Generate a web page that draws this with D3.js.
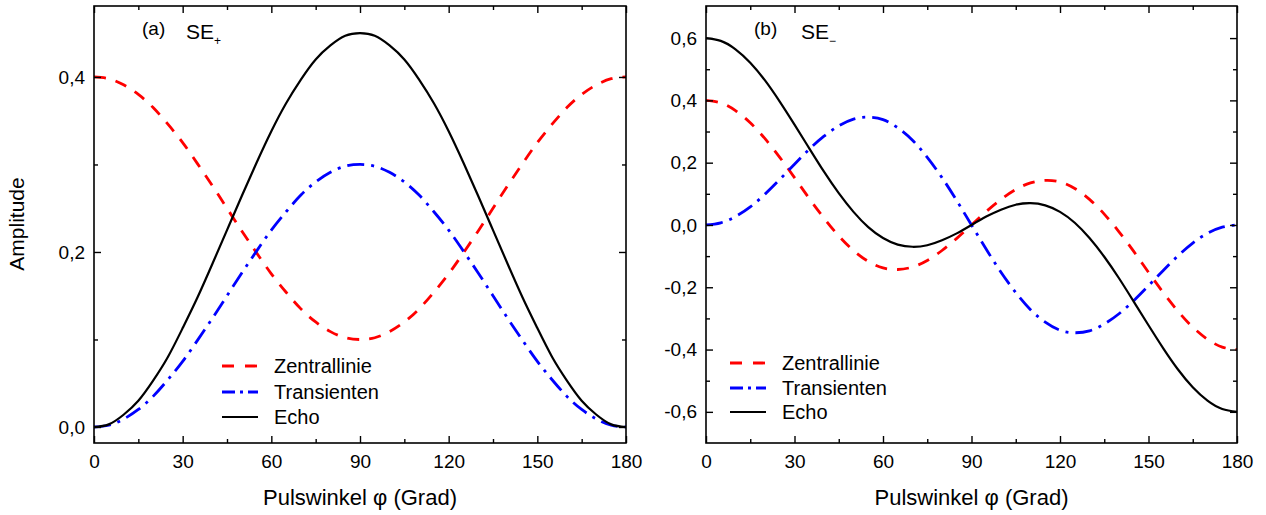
<!DOCTYPE html>
<html>
<head>
<meta charset="utf-8">
<script src="https://cdn.jsdelivr.net/npm/d3@7"></script>
<style>
  body { margin: 0; background: #fff; }
  svg { display: block; font-family: "Liberation Sans", Arial, sans-serif; }
</style>
</head>
<body>
<div id="chart"></div>
<script>
// pulse angle in degrees
const angles = [0,5,10,15,20,25,30,35,40,45,50,55,60,65,70,75,80,85,90,95,100,105,110,115,120,125,130,135,140,145,150,155,160,165,170,175,180];

// panel (a) SE+
const zentralPlus = [0.400,0.398,0.391,0.380,0.365,0.346,0.325,0.301,0.276,0.250,0.224,0.199,0.175,0.154,0.135,0.120,0.109,0.102,0.100,0.102,0.109,0.120,0.135,0.154,0.175,0.199,0.224,0.250,0.276,0.301,0.325,0.346,0.365,0.380,0.391,0.398,0.400];
const transPlus = [0.000,0.002,0.009,0.020,0.035,0.054,0.075,0.099,0.124,0.150,0.176,0.201,0.225,0.246,0.265,0.280,0.291,0.298,0.300,0.298,0.291,0.280,0.265,0.246,0.225,0.201,0.176,0.150,0.124,0.099,0.075,0.054,0.035,0.020,0.009,0.002,0.000];
const echoPlus = [0.000,0.003,0.014,0.030,0.053,0.080,0.113,0.148,0.186,0.225,0.264,0.302,0.338,0.370,0.397,0.420,0.436,0.447,0.450,0.447,0.436,0.420,0.397,0.370,0.338,0.302,0.264,0.225,0.186,0.148,0.113,0.080,0.053,0.030,0.014,0.003,0.000];

// panel (b) SE-
const zentralMinus = [0.400,0.392,0.367,0.328,0.277,0.217,0.152,0.085,0.022,-0.035,-0.082,-0.117,-0.138,-0.143,-0.135,-0.114,-0.082,-0.043,0.000,0.043,0.082,0.114,0.135,0.143,0.138,0.117,0.082,0.035,-0.022,-0.085,-0.152,-0.217,-0.277,-0.328,-0.367,-0.392,-0.400];
const transMinus = [0.000,0.007,0.027,0.058,0.099,0.146,0.195,0.243,0.285,0.318,0.340,0.346,0.338,0.312,0.272,0.217,0.152,0.078,0.000,-0.078,-0.152,-0.217,-0.272,-0.312,-0.338,-0.346,-0.340,-0.318,-0.285,-0.243,-0.195,-0.146,-0.099,-0.058,-0.027,-0.007,0.000];
const echoMinus = [0.600,0.591,0.564,0.521,0.464,0.396,0.322,0.246,0.171,0.102,0.042,-0.007,-0.042,-0.063,-0.070,-0.065,-0.049,-0.027,0.000,0.027,0.049,0.065,0.070,0.063,0.042,0.007,-0.042,-0.102,-0.171,-0.246,-0.322,-0.396,-0.464,-0.521,-0.564,-0.591,-0.600];

// ticks
const xTicks = [0,30,60,90,120,150,180];
const xMinor = [15,45,75,105,135,165];
const yTicksA = [0, 0.2, 0.4];
const yMinorA = [0.1, 0.3];
const yTicksB = [-0.6,-0.4,-0.2,0,0.2,0.4,0.6];
const yMinorB = [-0.5,-0.3,-0.1,0.1,0.3,0.5];

const seriesNames = ["Zentrallinie", "Transienten", "Echo"];

const W = 1266, H = 515;
const svg = d3.select("#chart").append("svg")
    .attr("width", W)
    .attr("height", H);
svg.append("rect").attr("width", W).attr("height", H).attr("fill", "#fff");

// german number format: comma decimal, hyphen minus
const de = d3.formatLocale({decimal: ",", thousands: ".", grouping: [3], currency: ["", " €"], minus: "-"});
const fmt = de.format(".1f");

const styles = [
    {color: "#ff0000", width: 2.8, dash: "12,10", legendDash: "12,11"},
    {color: "#0000ff", width: 2.8, dash: "17,7,3,7", legendDash: "13,5,3,5"},
    {color: "#000000", width: 2.2, dash: null, legendDash: null}
];

function drawPanel(p) {
    const x = d3.scaleLinear().domain([0, 180]).range([p.left, p.right]);
    const y = d3.scaleLinear().domain(p.yDomain).range([p.bottom, p.top]);

    const g = svg.append("g");

    // curves
    const line = d3.line()
        .x((d, i) => x(angles[i]))
        .y(d => y(d))
        .curve(d3.curveNatural);

    p.series.forEach((vals, k) => {
        const s = styles[k];
        g.append("path")
            .datum(vals)
            .attr("d", line)
            .attr("fill", "none")
            .attr("stroke", s.color)
            .attr("stroke-width", s.width)
            .attr("stroke-dasharray", s.dash)
            .attr("stroke-linejoin", "round");
    });

    // frame with inward ticks on all four sides
    const axisFont = "19px";
    g.append("g")
        .attr("transform", `translate(0,${p.bottom})`)
        .call(d3.axisBottom(x).tickValues(xTicks).tickSizeInner(-7).tickSizeOuter(0).tickPadding(12).tickFormat(d3.format("d")));
    g.append("g")
        .attr("transform", `translate(0,${p.bottom})`)
        .call(d3.axisBottom(x).tickValues(xMinor).tickSizeInner(-4).tickSizeOuter(0).tickFormat(""));
    g.append("g")
        .attr("transform", `translate(0,${p.top})`)
        .call(d3.axisTop(x).tickValues(xTicks).tickSizeInner(-7).tickSizeOuter(0).tickFormat(""));
    g.append("g")
        .attr("transform", `translate(0,${p.top})`)
        .call(d3.axisTop(x).tickValues(xMinor).tickSizeInner(-4).tickSizeOuter(0).tickFormat(""));

    g.append("g")
        .attr("transform", `translate(${p.left},0)`)
        .call(d3.axisLeft(y).tickValues(p.yTicks).tickSizeInner(-7).tickSizeOuter(0).tickPadding(9).tickFormat(fmt));
    g.append("g")
        .attr("transform", `translate(${p.left},0)`)
        .call(d3.axisLeft(y).tickValues(p.yMinor).tickSizeInner(-4).tickSizeOuter(0).tickFormat(""));
    g.append("g")
        .attr("transform", `translate(${p.right},0)`)
        .call(d3.axisRight(y).tickValues(p.yTicks).tickSizeInner(-7).tickSizeOuter(0).tickFormat(""));
    g.append("g")
        .attr("transform", `translate(${p.right},0)`)
        .call(d3.axisRight(y).tickValues(p.yMinor).tickSizeInner(-4).tickSizeOuter(0).tickFormat(""));

    g.selectAll(".domain").remove();
    g.selectAll(".tick line").attr("stroke", "#000").attr("stroke-width", 1.4);
    g.selectAll(".tick text")
        .attr("fill", "#000")
        .style("font-size", axisFont)
        .style("font-family", "'Liberation Sans', Arial, sans-serif");

    g.append("rect")
        .attr("x", p.left).attr("y", p.top)
        .attr("width", p.right - p.left).attr("height", p.bottom - p.top)
        .attr("fill", "none")
        .attr("stroke", "#000")
        .attr("stroke-width", 1.6);

    // x title
    g.append("text")
        .attr("x", (p.left + p.right) / 2)
        .attr("y", 505)
        .attr("text-anchor", "middle")
        .style("font-size", "22px")
        .text("Pulswinkel φ (Grad)");

    // panel label
    g.append("text")
        .attr("x", p.left + 48)
        .attr("y", 35)
        .style("font-size", "19px")
        .text(p.tag);
    const t = g.append("text")
        .attr("x", p.left + p.seX)
        .attr("y", 39)
        .style("font-size", "21px");
    t.append("tspan").text("SE");
    t.append("tspan")
        .attr("dy", 6)
        .style("font-size", "12px")
        .text(p.sub);

    // legend
    seriesNames.forEach((name, k) => {
        const s = styles[k];
        const ly = p.legendY[k];
        g.append("line")
            .attr("x1", p.legendX).attr("x2", p.legendX + 36)
            .attr("y1", ly).attr("y2", ly)
            .attr("stroke", s.color)
            .attr("stroke-width", s.width)
            .attr("stroke-dasharray", s.legendDash);
        g.append("text")
            .attr("x", p.legendX + 52)
            .attr("y", ly)
            .attr("dy", "0.35em")
            .style("font-size", "20px")
            .text(name);
    });
}

drawPanel({
    left: 94, right: 626, top: 6, bottom: 443,
    yDomain: [-0.0183, 0.4811],
    yTicks: yTicksA, yMinor: yMinorA,
    series: [zentralPlus, transPlus, echoPlus],
    tag: "(a)", sub: "+", seX: 92,
    legendX: 222, legendY: [366, 392, 417]
});

drawPanel({
    left: 706, right: 1237, top: 6, bottom: 443,
    yDomain: [-0.7, 0.703],
    yTicks: yTicksB, yMinor: yMinorB,
    series: [zentralMinus, transMinus, echoMinus],
    tag: "(b)", sub: "−", seX: 95,
    legendX: 730, legendY: [363, 388, 412]
});

// y title (shared, left)
svg.append("text")
    .attr("transform", "translate(24,224) rotate(-90)")
    .attr("text-anchor", "middle")
    .style("font-size", "21px")
    .text("Amplitude");
</script>
</body>
</html>
